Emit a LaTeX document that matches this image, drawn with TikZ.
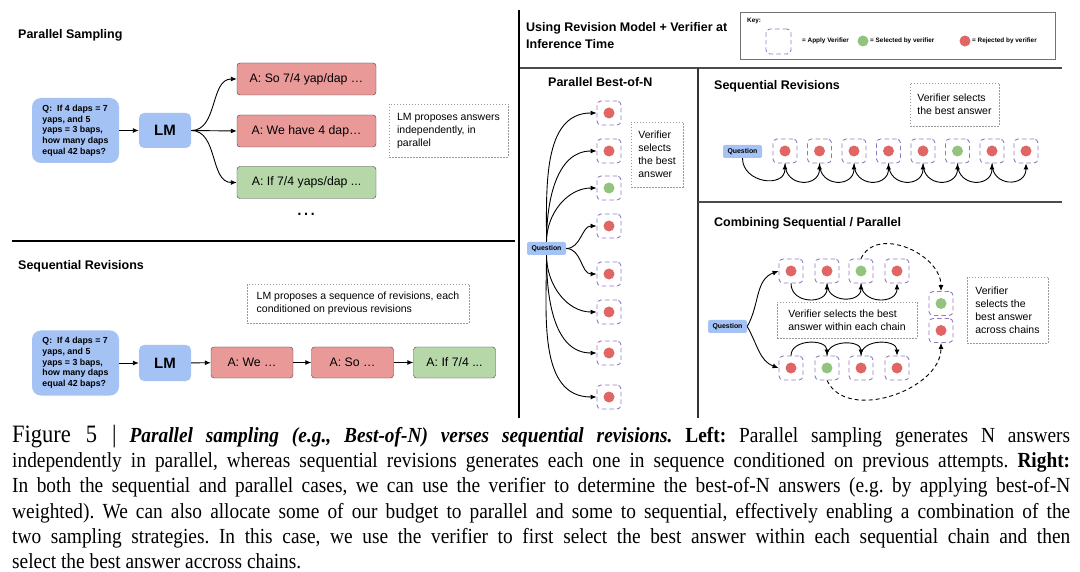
\documentclass[tikz,border=0pt]{standalone}
\usepackage{fontspec}
\setmainfont{Liberation Sans}
\newfontfamily\capfont[FakeStretch=0.9]{Liberation Serif}
\usetikzlibrary{arrows.meta}

\definecolor{qblue}{HTML}{A4C2F4}
\definecolor{ansred}{HTML}{EA9999}
\definecolor{ansgreen}{HTML}{B6D7A8}
\definecolor{dotred}{HTML}{E06666}
\definecolor{dotgreen}{HTML}{93C47D}
\definecolor{verifpurple}{HTML}{8E7CC3}

\tikzset{
    paneltitle/.style={anchor=west, inner sep=0pt, align=left, font=\fontsize{12.5}{17}\selectfont\bfseries},
    qbox/.style={fill=qblue, rounded corners=9pt, align=left, minimum width=87pt, minimum height=65pt,
        font=\fontsize{8.8}{10.7}\selectfont\bfseries},
    lmbox/.style={fill=qblue, rounded corners=5pt, minimum width=52pt, minimum height=35pt,
        font=\fontsize{15}{18}\selectfont\bfseries},
    ansbox/.style={draw=black!75, rounded corners=3pt, minimum height=32pt, font=\fontsize{12.3}{15}\selectfont},
    notebox/.style={draw=black!40, dash pattern=on 1.5pt off 1.5pt, align=left, font=\fontsize{10.5}{13}\selectfont},
    qsmall/.style={fill=qblue, rounded corners=2pt, minimum width=39pt, minimum height=13pt, inner sep=0pt,
        font=\fontsize{6.9}{8}\selectfont\bfseries},
    verif/.style={draw=verifpurple, line width=0.9pt, dash pattern=on 4.5pt off 3pt, rounded corners=4pt,
        minimum size=24pt, inner sep=0pt},
    keytext/.style={anchor=west, inner sep=0pt, font=\fontsize{6.4}{8}\selectfont\bfseries},
    conn/.style={->, line width=0.9pt},
    >={Latex[length=6pt,width=5pt]},
}

\begin{document}
\begin{tikzpicture}[x=1pt, y=1pt]
    \useasboundingbox (0,0) rectangle (1080,-572);

    % frame lines
    \draw[line width=2.5pt] (12,-241) -- (515,-241);
    \draw[line width=2.5pt] (519,-10) -- (519,-418);
    \draw[line width=1.5pt, black!70] (520,-68) -- (1062,-68);
    \draw[line width=1.2pt, black!80] (698,-68) -- (698,-418);
    \draw[line width=1.5pt, black!70] (698,-202) -- (1062,-202);

    % --- parallel sampling
    \node[paneltitle] (pstitle) at (18,-35) {Parallel Sampling};
    \node[qbox] (q1) at (75.5,-130.5) {Q:~~If 4 daps = 7\\yaps, and 5\\yaps = 3 baps,\\how many daps\\equal 42 baps?};
    \node[lmbox] (lm1) at (165,-130.5) {LM};
    \node[ansbox, fill=ansred, minimum width=139pt] (a1) at (306.5,-79) {A: So 7/4 yap/dap …};
    \node[ansbox, fill=ansred, minimum width=139pt] (a2) at (306.5,-131) {A: We have 4 dap…};
    \node[ansbox, fill=ansgreen, minimum width=139pt] (a3) at (306.5,-182.5) {A: If 7/4 yaps/dap ...};
    \node[notebox, minimum width=119pt, minimum height=53pt] (n1) at (448.5,-130.5) {LM proposes answers\\independently, in\\parallel};
    \node[font=\fontsize{21}{21}\selectfont] (more) at (306,-214) {…};

    \draw[conn] (q1) -- (lm1);
    \draw[conn] (lm1.east) to[out=0, in=180] (a1.west);
    \draw[conn] (lm1.east) -- (a2.west);
    \draw[conn] (lm1.east) to[out=0, in=180] (a3.west);

    % --- sequential revisions
    \node[paneltitle] (srtitle) at (18,-266) {Sequential Revisions};
    \node[notebox, minimum width=222pt, minimum height=39pt] (n2) at (358,-303.5) {LM proposes a sequence of revisions, each\\conditioned on previous revisions};
    \node[qbox] (q2) at (75.5,-363) {Q:~~If 4 daps = 7\\yaps, and 5\\yaps = 3 baps,\\how many daps\\equal 42 baps?};
    \node[lmbox, minimum height=36pt] (lm2) at (165,-363) {LM};
    \node[ansbox, fill=ansred, minimum width=82pt, minimum height=31pt] (r1) at (252,-362.5) {A: We …};
    \node[ansbox, fill=ansred, minimum width=82pt, minimum height=31pt] (r2) at (352.5,-362.5) {A: So …};
    \node[ansbox, fill=ansgreen, minimum width=82pt, minimum height=31pt] (r3) at (454.5,-362.5) {A: If 7/4 ...};

    \draw[conn] (q2) -- (lm2);
    \draw[conn] (lm2) -- (r1);
    \draw[conn] (r1) -- (r2);
    \draw[conn] (r2) -- (r3);

    % --- header and key
    \node[paneltitle] (rtitle) at (526,-36) {Using Revision Model + Verifier at\\Inference Time};
    \node[draw=black!55, line width=1pt, minimum width=315pt, minimum height=47pt] (key) at (897.5,-36.5) {};
    \node[keytext] (keylabel) at (747,-21) {Key:};
    \node[verif, minimum width=25pt, minimum height=25pt] (keyverif) at (778.5,-41.5) {};
    \node[keytext] (keyapply) at (802,-41) {= Apply Verifier};
    \fill[dotgreen] (863,-41) circle (5.5pt);
    \node[keytext] (keysel) at (870,-41) {= Selected by verifier};
    \fill[dotred] (965,-41) circle (5.5pt);
    \node[keytext] (keyrej) at (972,-41) {= Rejected by verifier};

    % --- parallel best-of-n
    \node[paneltitle] (bntitle) at (548,-82) {Parallel Best-of-N};
    \node[qsmall] (bq) at (546.5,-248.5) {Question};
    \node[verif] (b1) at (609,-113) {};
    \node[verif] (b2) at (609,-151) {};
    \node[verif] (b3) at (609,-188) {};
    \node[verif] (b4) at (609,-226) {};
    \node[verif] (b5) at (609,-274) {};
    \node[verif] (b6) at (609,-312) {};
    \node[verif] (b7) at (609,-353) {};
    \node[verif] (b8) at (609,-397) {};
    \fill[dotred] (b1) circle (5.5pt);
    \fill[dotred] (b2) circle (5.5pt);
    \fill[dotgreen] (b3) circle (5.5pt);
    \fill[dotred] (b4) circle (5.5pt);
    \fill[dotred] (b5) circle (5.5pt);
    \fill[dotred] (b6) circle (5.5pt);
    \fill[dotred] (b7) circle (5.5pt);
    \fill[dotred] (b8) circle (5.5pt);
    \node[notebox, minimum width=52pt, minimum height=65pt] (n3) at (657,-154.5) {Verifier\\selects\\the best\\answer};

    \draw[conn] (bq.north) to[out=90, in=180] (b1.west);
    \draw[conn] (bq.north) to[out=90, in=180] (b2.west);
    \draw[conn] (bq.north) to[out=90, in=180] (b3.west);
    \draw[conn] (bq.east) to[out=0, in=180] (b4.west);
    \draw[conn] (bq.east) to[out=0, in=180] (b5.west);
    \draw[conn] (bq.south) to[out=-90, in=180] (b6.west);
    \draw[conn] (bq.south) to[out=-90, in=180] (b7.west);
    \draw[conn] (bq.south) to[out=-90, in=180] (b8.west);

    % --- sequential revisions with verifier
    \node[paneltitle] (srtitle2) at (714,-86) {Sequential Revisions};
    \node[notebox, minimum width=89pt, minimum height=43pt] (n4) at (954.5,-104.5) {Verifier selects\\the best answer};
    \node[qsmall] (sq) at (742.5,-151.5) {Question};
    \node[verif] (s1) at (785,-151) {};
    \node[verif] (s2) at (819.5,-151) {};
    \node[verif] (s3) at (854,-151) {};
    \node[verif] (s4) at (888.5,-151) {};
    \node[verif] (s5) at (923,-151) {};
    \node[verif] (s6) at (957.5,-151) {};
    \node[verif] (s7) at (992,-151) {};
    \node[verif] (s8) at (1026,-151) {};
    \fill[dotred] (s1) circle (5.5pt);
    \fill[dotred] (s2) circle (5.5pt);
    \fill[dotred] (s3) circle (5.5pt);
    \fill[dotred] (s4) circle (5.5pt);
    \fill[dotred] (s5) circle (5.5pt);
    \fill[dotgreen] (s6) circle (5.5pt);
    \fill[dotred] (s7) circle (5.5pt);
    \fill[dotred] (s8) circle (5.5pt);

    \draw[conn] (sq.south) to[out=-90, in=-90, looseness=1.5] (s1.south);
    \draw[conn] (s1.south) to[out=-90, in=-90, looseness=1.8] (s2.south);
    \draw[conn] (s2.south) to[out=-90, in=-90, looseness=1.8] (s3.south);
    \draw[conn] (s3.south) to[out=-90, in=-90, looseness=1.8] (s4.south);
    \draw[conn] (s4.south) to[out=-90, in=-90, looseness=1.8] (s5.south);
    \draw[conn] (s5.south) to[out=-90, in=-90, looseness=1.8] (s6.south);
    \draw[conn] (s6.south) to[out=-90, in=-90, looseness=1.8] (s7.south);
    \draw[conn] (s7.south) to[out=-90, in=-90, looseness=1.8] (s8.south);

    % --- combining sequential / parallel
    \node[paneltitle] (cbtitle) at (714,-223) {Combining Sequential / Parallel};
    \node[qsmall] (cq) at (727.5,-326.5) {Question};
    \node[verif] (t1) at (791,-271) {};
    \node[verif] (t2) at (827,-271) {};
    \node[verif] (t3) at (861,-271) {};
    \node[verif] (t4) at (897,-271) {};
    \node[verif] (u1) at (791,-368) {};
    \node[verif] (u2) at (827,-368) {};
    \node[verif] (u3) at (861,-368) {};
    \node[verif] (u4) at (897,-368) {};
    \node[verif] (f1) at (941,-303.5) {};
    \node[verif] (f2) at (941,-330.5) {};
    \fill[dotred] (t1) circle (5.5pt);
    \fill[dotred] (t2) circle (5.5pt);
    \fill[dotgreen] (t3) circle (5.5pt);
    \fill[dotred] (t4) circle (5.5pt);
    \fill[dotred] (u1) circle (5.5pt);
    \fill[dotgreen] (u2) circle (5.5pt);
    \fill[dotred] (u3) circle (5.5pt);
    \fill[dotred] (u4) circle (5.5pt);
    \fill[dotgreen] (f1) circle (5.5pt);
    \fill[dotred] (f2) circle (5.5pt);
    \node[notebox, minimum width=140pt, minimum height=36pt] (n5) at (847,-320) {Verifier selects the best\\answer within each chain};
    \node[notebox, minimum width=81pt, minimum height=66pt] (n6) at (1007.5,-310) {Verifier\\selects the\\best answer\\across chains};

    \draw[conn] (cq.east) to[out=60, in=200] (t1.west);
    \draw[conn] (cq.east) to[out=-60, in=160] (u1.west);
    \draw[conn] (t1.south) to[out=-90, in=-90, looseness=1.5] (t2.south);
    \draw[conn] (t2.south) to[out=-90, in=-90, looseness=1.5] (t3.south);
    \draw[conn] (t3.south) to[out=-90, in=-90, looseness=1.5] (t4.south);
    \draw[conn] (u1.north) to[out=90, in=90, looseness=1.2] (u2.north);
    \draw[conn] (u2.north) to[out=90, in=90, looseness=1.2] (u3.north);
    \draw[conn] (u3.north) to[out=90, in=90, looseness=1.2] (u4.north);
    \draw[conn, dash pattern=on 4pt off 3pt] (t3.north) to[out=65, in=90, looseness=1.1] (f1.north);
    \draw[conn, dash pattern=on 4pt off 3pt] (u2.south) to[out=-65, in=-90] (f2.south);

    % --- caption
    \node[anchor=north west, inner sep=0pt, text width=1058pt, align=justify,
        font=\capfont\fontsize{21.5}{25.2}\selectfont] (caption) at (12,-425) {\frenchspacing\hyphenpenalty=10000 \exhyphenpenalty=10000 \tolerance=10000
        {\fontsize{25}{25.2}\selectfont Figure 5 |} \textbf{\textit{Parallel sampling (e.g., Best-of-N) verses sequential revisions.}} \textbf{Left:} Parallel sampling generates N answers\linebreak
        independently in parallel, whereas sequential revisions generates each one in sequence conditioned on previous attempts. \textbf{Right:}\linebreak
        In both the sequential and parallel cases, we can use the verifier to determine the best-of-N answers (e.g. by applying best-of-N\linebreak
        weighted). We can also allocate some of our budget to parallel and some to sequential, effectively enabling a combination of the\linebreak
        two sampling strategies. In this case, we use the verifier to first select the best answer within each sequential chain and then\linebreak
        select the best answer accross chains.};
\end{tikzpicture}
\end{document}
